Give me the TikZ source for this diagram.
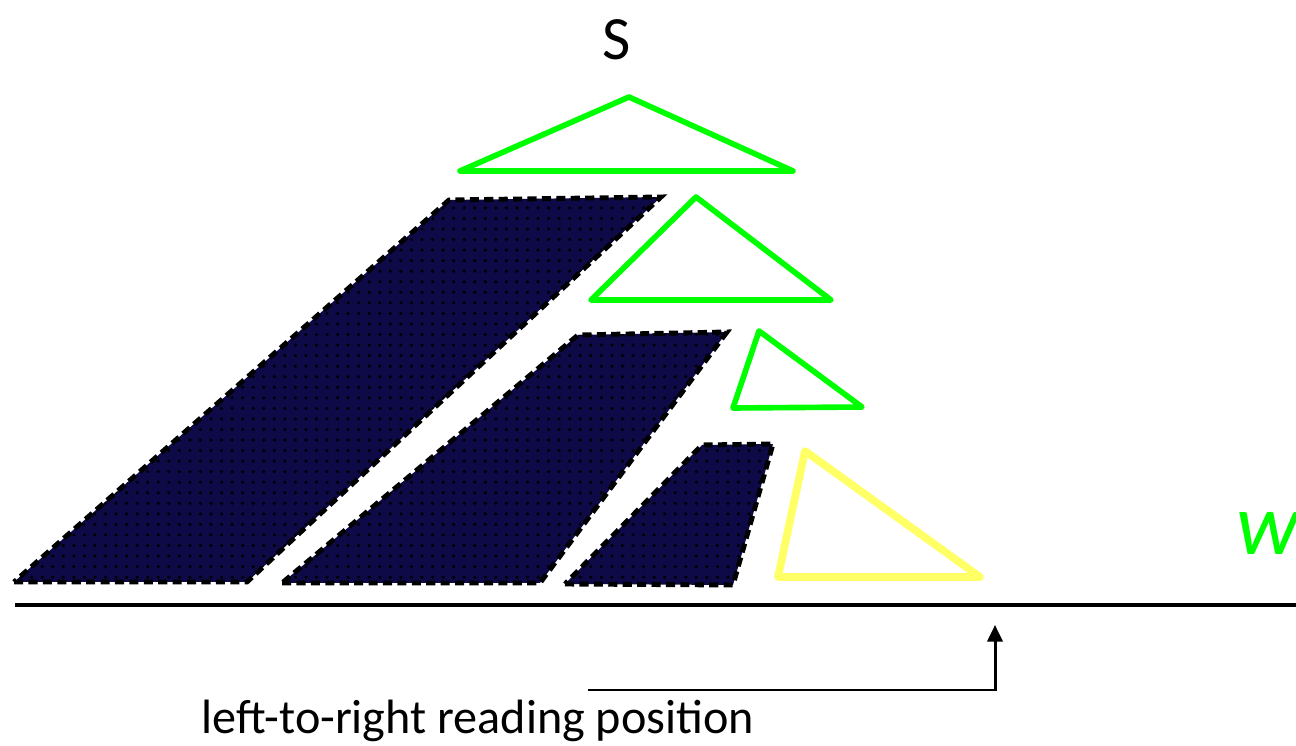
\documentclass[tikz,border=0pt]{standalone}
\usepackage{fontspec}
\setmainfont{Carlito}
\usetikzlibrary{arrows.meta, patterns}
\definecolor{treegreen}{HTML}{00FF00}
\definecolor{curyellow}{HTML}{FFFF66}
\definecolor{chunknavy}{HTML}{0E0A48}
\tikzset{
	subtree/.style={draw=treegreen, line width=1.6pt, line join=round},
	curtree/.style={draw=curyellow, line width=2.2pt, line join=round},
	chunk/.style={preaction={fill=chunknavy}, pattern=dots, pattern color=black,
		draw=black, line width=1.4pt, dash pattern=on 2.6pt off 1.5pt},
	arr/.style={-{Triangle[length=4.7pt, width=4.3pt]}, line width=0.85pt},
	lbl/.style={font=\fontsize{13.7}{16}\selectfont, inner sep=0pt},
}
\begin{document}
\begin{tikzpicture}[x=0.01cm, y=-0.01cm]
	\useasboundingbox (0,0) rectangle (1296,746);
	
	\node[font=\fontsize{17.5}{20}\selectfont] (root) at (617,40) {S};
	\node[anchor=base west, inner sep=0pt, text=treegreen,
		font=\fontsize{25}{30}\selectfont\itshape] (word) at (1236,555) {w};
	
	% partial trees
	\draw[subtree] (629,97) -- (460,171) -- (793,171) -- cycle;
	\draw[subtree] (696,197) -- (591,300) -- (831,300) -- cycle;
	\draw[subtree] (759,331) -- (733,408) -- (862,407) -- cycle;
	\draw[curtree] (805,451) -- (778,577) -- (980,577) -- cycle;
	
	% finished chunks
	\draw[chunk] (14,582) -- (247,582) -- (661,197) -- (449,200) -- cycle;
	\draw[chunk] (282,583) -- (540,583) -- (727,332) -- (578,335) -- cycle;
	\draw[chunk] (565,584) -- (733,585) -- (773,444) -- (702,445) -- cycle;
	
	\draw[line width=0.95pt] (15,605) -- (1296,605);
	
	\node[lbl] (pos) at (478,721) {left-to-right reading position};
	\coordinate (from) at (588,690);
	\coordinate (to) at (995,625);
	\draw[arr] (from) -| (to);
\end{tikzpicture}
\end{document}
